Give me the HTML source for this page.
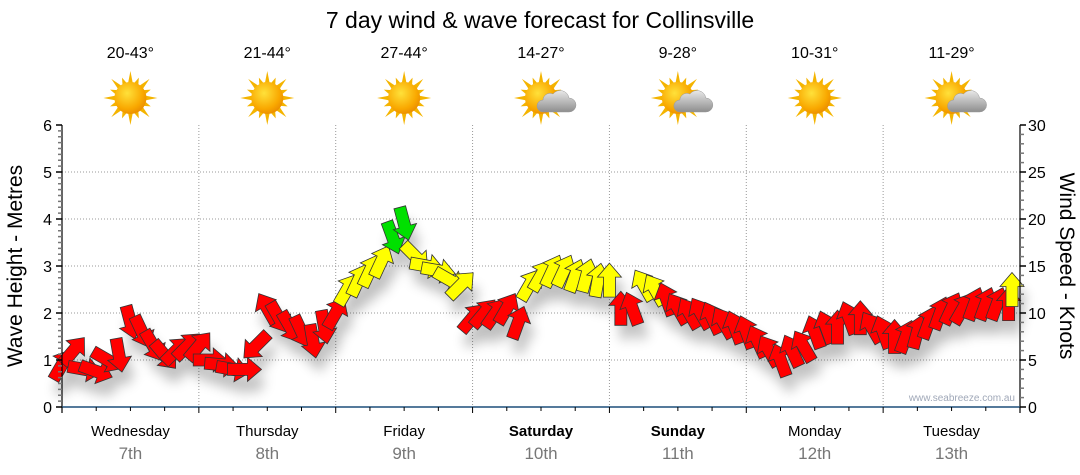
<!DOCTYPE html>
<html><head><meta charset="utf-8"><style>
body{margin:0;background:#fff;}
svg{display:block;font-family:"Liberation Sans",sans-serif;}
</style></head><body>
<svg id="chart" width="1080" height="475" viewBox="0 0 1080 475" xmlns="http://www.w3.org/2000/svg">
<defs>
<filter id="sh" x="-50%" y="-50%" width="200%" height="200%"><feGaussianBlur stdDeviation="6"/></filter>
<radialGradient id="sunG" cx="0.4" cy="0.35" r="0.7"><stop offset="0" stop-color="#ffe13a"/><stop offset="0.7" stop-color="#f9a800"/><stop offset="1" stop-color="#e98a00"/></radialGradient>
<linearGradient id="cloudG" x1="0" y1="0" x2="0" y2="1"><stop offset="0" stop-color="#e8e8e8"/><stop offset="1" stop-color="#8e8e8e"/></linearGradient>
</defs>
<text x="540" y="28" font-size="23" text-anchor="middle" fill="#000">7 day wind &amp; wave forecast for Collinsville</text>
<g id="icons"></g>
<g id="grid"></g>
<g id="shadows" filter="url(#sh)" opacity="0.25"></g>
<g id="arrows"></g>
<g id="axes"></g>
<text x="1015" y="401" font-size="10" text-anchor="end" fill="#a0a8b8">www.seabreeze.com.au</text>
<text transform="translate(22,266) rotate(-90)" font-size="21" text-anchor="middle">Wave Height - Metres</text>
<text transform="translate(1060,266) rotate(90)" font-size="21" text-anchor="middle">Wind Speed - Knots</text>
</svg>
<script>
const dayNames=["Wednesday","Thursday","Friday","Saturday","Sunday","Monday","Tuesday"];
const dayDates=["7th","8th","9th","10th","11th","12th","13th"];
const boldDays=[false,false,false,true,true,false,false];
const temps=["20-43°","21-44°","27-44°","14-27°","9-28°","10-31°","11-29°"];
const cloudy=[false,false,false,true,true,false,true];
const waveTicks=[0,1,2,3,4,5,6];
const windTicks=[0,5,10,15,20,25,30];
const windHours=[0,2,4,6,8,10,12,14,16,18,20,22,24,26,28,30,32,34,36,38,40,42,44,46,48,50,52,54,56,58,60,62,64,66,68,70,72,74,76,78,80,82,84,86,88,90,92,94,96,98,100,102,104,106,108,110,112,114,116,118,120,122,124,126,128,130,132,134,136,138,140,142,144,146,148,150,152,154,156,158,160,162,164,166,167];
const windSpeed=[4.5,6,4,3.8,5,5.5,9,8,6.5,5.5,6,6.5,
6.5,5,4.5,4,4,6.5,10.5,9.5,8.5,8,7,8.5,
10,12.5,13.5,14.5,15.5,18,19.5,16,15,14.5,13.5,13,
9.5,10,10,10.5,9,13,14,14.5,14.5,14,14,13.5,
13.5,10.5,10.5,13,12.5,11.5,10.5,10,10,9.5,9,8.5,
8,7,6,5,6,6.5,8,8.5,8.5,9.5,9.5,8.5,
8,7.5,7.5,8,9,10,10.5,10.5,11,11,11,11,12.5];
const windDir=[30,40,100,110,120,170,165,155,150,140,45,45,
40,90,95,100,90,225,330,150,150,155,170,170,
30,30,25,25,25,160,165,135,100,100,120,45,
40,40,35,30,20,30,30,25,25,20,15,10,
0,0,340,330,330,340,330,330,330,335,330,340,
340,335,330,340,335,330,340,340,0,340,0,330,
340,0,20,15,20,20,25,30,20,20,20,0,0];

const NS="http://www.w3.org/2000/svg";
const X0=62,X1=1020,Y0=407,Y1=125;
const xH=h=>X0+h*(X1-X0)/168;
const yWave=m=>Y0-m*(Y0-Y1)/6;
const yWind=k=>Y0-k*(Y0-Y1)/30;
function mk(tag,attrs,parent){const e=document.createElementNS(NS,tag);for(const k in attrs)e.setAttribute(k,attrs[k]);parent.appendChild(e);return e;}
const grid=document.getElementById('grid'),axes=document.getElementById('axes'),icons=document.getElementById('icons');
waveTicks.forEach(m=>{if(m>0&&m<6){const l=mk('line',{x1:X0,x2:X1,y1:yWave(m),y2:yWave(m),stroke:'#999','stroke-width':1,'stroke-dasharray':'1,2'},grid);

}});
for(let d=1;d<7;d++){const l=mk('line',{x1:xH(d*24),x2:xH(d*24),y1:Y1,y2:Y0,stroke:'#999','stroke-width':1,'stroke-dasharray':'1,2'},grid);

}
mk('line',{x1:X0,x2:X0,y1:Y1,y2:Y0+6,stroke:'#000','stroke-width':1.2},axes);
mk('line',{x1:X1,x2:X1,y1:Y1,y2:Y0+6,stroke:'#000','stroke-width':1.2},axes);
const xa=mk('line',{x1:X0,x2:X1,y1:Y0,y2:Y0,stroke:'#1d4f7a','stroke-width':1.5},axes);


for(let i=0;i<=48;i++){const m=i/8;mk('line',{x1:X0-(i%8==0?6:4),x2:X0,y1:yWave(m),y2:yWave(m),stroke:i%8==0?'#000':'#777','stroke-width':1.5},axes);}
for(let k=0;k<=30;k++){mk('line',{x1:X1,x2:X1+(k%5==0?6:4),y1:yWind(k),y2:yWind(k),stroke:k%5==0?'#000':'#777','stroke-width':1.5},axes);}
for(let h=0;h<=168;h+=6){mk('line',{x1:xH(h),x2:xH(h),y1:Y0,y2:Y0+(h%24==0?6:4),stroke:'#000','stroke-width':1},axes);}
waveTicks.forEach(m=>{const t=mk('text',{x:X0-10,y:yWave(m)+6,'font-size':16,'text-anchor':'end'},axes);t.textContent=m;

});
windTicks.forEach(k=>{const t=mk('text',{x:X1+8,y:yWind(k)+6,'font-size':16},axes);t.textContent=k;

});
dayNames.forEach((n,i)=>{const cx=xH(i*24+12);
const t=mk('text',{x:cx,y:436,'font-size':15,'text-anchor':'middle','font-weight':boldDays[i]?'bold':'normal'},axes);t.textContent=n;


const dt=mk('text',{x:cx,y:459,'font-size':17,'text-anchor':'middle',fill:'#777'},axes);dt.textContent=dayDates[i];


const tt=mk('text',{x:cx,y:58,'font-size':16,'text-anchor':'middle'},icons);tt.textContent=temps[i];


const g=mk('g',{transform:`translate(${cx},98)`},icons);


for(let a=0;a<16;a++){const r=a%2?22:27;const ang=a*Math.PI/8;const w=0.16;
mk('polygon',{points:`${Math.cos(ang-w)*15},${Math.sin(ang-w)*15} ${Math.cos(ang)*r},${Math.sin(ang)*r} ${Math.cos(ang+w)*15},${Math.sin(ang+w)*15}`,fill:'#f4b400'},g);}
mk('circle',{cx:0,cy:0,r:16,fill:'url(#sunG)'},g);
if(cloudy[i]){mk('path',{d:'M2,14 h26 a7,7 0 0 0 0,-14 a9,9 0 0 0 -16,-4 a7,7 0 0 0 -10,6 a6,6 0 0 0 0,12z',fill:'url(#cloudG)',stroke:'#999','stroke-width':0.5},g);}
});
const arrowPts="0,-17 12,-3 6,-3 6,17 -6,17 -6,-3 -12,-3";
const sh=document.getElementById('shadows'),ar=document.getElementById('arrows');
windHours.forEach((h,i)=>{const k=windSpeed[i];const col=k>=18?'#00e000':(k>=12.5?'#ffff00':'#ff0000');
const x=Math.min(xH(h),1012),y=yWind(k);
mk('polygon',{points:arrowPts,fill:'#000',transform:`translate(${x+5},${y+14}) rotate(${windDir[i]})`},sh);
const p=mk('polygon',{points:arrowPts,fill:col,stroke:'#333','stroke-width':0.8,transform:`translate(${x},${y}) rotate(${windDir[i]})`},ar);

});
</script>
</body></html>
